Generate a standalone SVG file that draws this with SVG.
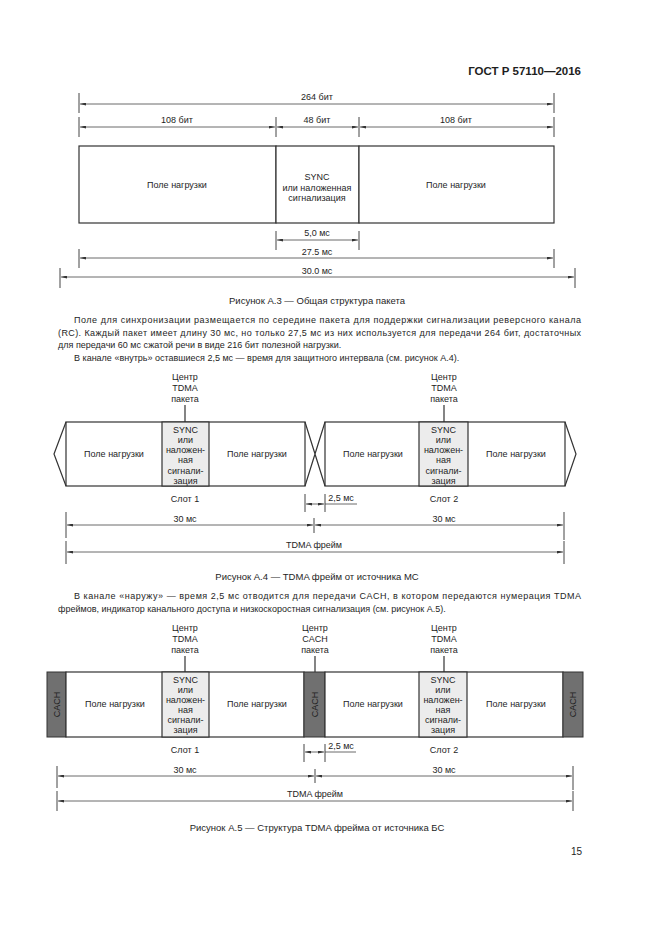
<svg xmlns="http://www.w3.org/2000/svg" width="661" height="935" viewBox="0 0 661 935">
<style>
text{font-family:"Liberation Sans",Arial,sans-serif;fill:#1e1e1e}
.t{font-size:9px;text-anchor:middle}
.p{font-size:9px}
.c{font-size:9.5px;text-anchor:middle}
.h{font-size:11.5px;font-weight:bold;text-anchor:end}
.box{fill:#fff;stroke:#333;stroke-width:1.2}
.sync{fill:#ececec;stroke:#333;stroke-width:1.2}
.cach{fill:#707070;stroke:#333;stroke-width:1}
.d{stroke:#444;stroke-width:0.8;fill:none}
.dm{stroke:#444;stroke-width:0.8;fill:none;marker-start:url(#a);marker-end:url(#a)}
.k{stroke:#444;stroke-width:1;fill:none}
.ln{stroke:#333;stroke-width:1.2;fill:none}
</style>
<defs>
<marker id="a" viewBox="0 0 8 4" refX="8" refY="2" markerWidth="6" markerHeight="3" orient="auto-start-reverse" markerUnits="userSpaceOnUse"><path d="M0,0 L8,2 L0,4z" fill="#333"/></marker>
</defs>
<rect width="661" height="935" fill="#fff"/>
<text class="h" x="581" y="75">ГОСТ Р 57110—2016</text>

<!-- Figure A.3 -->
<g id="a3-payload-left"><rect class="box" x="79" y="146" width="197" height="77"/><text class="t" x="177" y="188">Поле нагрузки</text></g>
<g id="a3-sync"><rect class="box" x="276" y="146" width="83" height="77"/><text class="t" x="317" y="180">SYNC</text><text class="t" x="317" y="191">или наложенная</text><text class="t" x="317" y="201">сигнализация</text></g>
<g id="a3-payload-right"><rect class="box" x="359" y="146" width="195" height="77"/><text class="t" x="456" y="188">Поле нагрузки</text></g>

<g id="a3-dimensions">
<path class="k" d="M79,93V113M554,93V113M79,117V137M276,117V137M359,117V137M554,117V137M276,231V250M359,231V250M79,249V268M554,249V268M60,268V288M575,268V288"/>
<path class="dm" d="M80,104H553"/>
<path class="dm" d="M80,127H275"/>
<path class="dm" d="M277,127H358"/>
<path class="dm" d="M360,127H553"/>
<path class="dm" d="M277,240H358"/>
<path class="dm" d="M80,258H553"/>
<path class="dm" d="M61,277H574"/>
<text class="t" x="317" y="100">264 бит</text>
<text class="t" x="177" y="123">108 бит</text>
<text class="t" x="317" y="123">48 бит</text>
<text class="t" x="456" y="123">108 бит</text>
<text class="t" x="317" y="236">5,0 мс</text>
<text class="t" x="317" y="255">27.5 мс</text>
<text class="t" x="317" y="274">30.0 мс</text>
</g>

<text class="c" x="317" y="304">Рисунок А.3 — Общая структура пакета</text>
<text class="p" x="74" y="323" textLength="507" lengthAdjust="spacing">Поле для синхронизации размещается по середине пакета для поддержки сигнализации реверсного канала</text>
<text class="p" x="58" y="336" textLength="523" lengthAdjust="spacing">(RC). Каждый пакет имеет длину 30 мс, но только 27,5 мс из них используется для передачи 264 бит, достаточных</text>
<text class="p" x="58" y="348">для передачи 60 мс сжатой речи в виде 216 бит полезной нагрузки.</text>
<text class="p" x="74" y="361">В канале «внутрь» оставшиеся 2,5 мс — время для защитного интервала (см. рисунок А.4).</text>

<!-- Figure A.4 -->
<g id="a4-label1"><text class="t" x="185" y="380">Центр</text><text class="t" x="185" y="391">TDMA</text><text class="t" x="185" y="402">пакета</text><path class="ln" d="M185,405V422"/></g>
<g id="a4-label2"><text class="t" x="444" y="380">Центр</text><text class="t" x="444" y="391">TDMA</text><text class="t" x="444" y="402">пакета</text><path class="ln" d="M444,405V422"/></g>
<g id="a4-slot1">
<rect class="box" x="66" y="422" width="239" height="64"/>
<rect class="sync" x="162" y="422" width="47" height="64"/>
<path class="ln" d="M66,422L54,454L66,486"/>
<text class="t" x="114" y="457">Поле нагрузки</text>
<text class="t" x="257" y="457">Поле нагрузки</text>
<text class="t" x="185.5" y="433">SYNC</text><text class="t" x="185.5" y="443">или</text><text class="t" x="185.5" y="453">наложен-</text><text class="t" x="185.5" y="463">ная</text><text class="t" x="185.5" y="474">сигнали-</text><text class="t" x="185.5" y="484">зация</text>
<text class="t" x="185" y="502">Слот 1</text>
</g>
<g id="a4-slot2">
<rect class="box" x="325" y="422" width="240" height="64"/>
<rect class="sync" x="419" y="422" width="49" height="64"/>
<path class="ln" d="M565,422L576,454L565,486"/>
<text class="t" x="373" y="457">Поле нагрузки</text>
<text class="t" x="516" y="457">Поле нагрузки</text>
<text class="t" x="443.5" y="433">SYNC</text><text class="t" x="443.5" y="443">или</text><text class="t" x="443.5" y="453">наложен-</text><text class="t" x="443.5" y="463">ная</text><text class="t" x="443.5" y="474">сигнали-</text><text class="t" x="443.5" y="484">зация</text>
<text class="t" x="444" y="502">Слот 2</text>
</g>
<g id="a4-connectors">
<path class="ln" d="M305,422L325,486M305,486L325,422"/>
<path class="k" d="M305,494V512M325,494V512M66,512V538M314,518V533M564,512V540M66,541V564M564,541V564"/>
<path class="dm" d="M306,504H324"/>
<path class="d" d="M325,504H357"/>
<text class="t" x="341" y="501">2,5 мс</text>
<path class="dm" d="M67,525H313"/>
<path class="dm" d="M315,525H563"/>
<text class="t" x="185" y="522">30 мс</text>
<text class="t" x="444" y="522">30 мс</text>
<path class="dm" d="M67,552H563"/>
<text class="t" x="314" y="548">TDMA фрейм</text>
</g>

<text class="c" x="317" y="580">Рисунок А.4 — TDMA фрейм от источника МС</text>
<text class="p" x="74" y="599" textLength="507" lengthAdjust="spacing">В канале «наружу» — время 2,5 мс отводится для передачи CACH, в котором передаются нумерация TDMA</text>
<text class="p" x="58" y="612">фреймов, индикатор канального доступа и низкоскоростная сигнализация (см. рисунок А.5).</text>

<!-- Figure A.5 -->
<g id="a5-label1"><text class="t" x="185" y="631">Центр</text><text class="t" x="185" y="642">TDMA</text><text class="t" x="185" y="653">пакета</text><path class="ln" d="M185,656V672"/></g>
<g id="a5-label2"><text class="t" x="315" y="631">Центр</text><text class="t" x="315" y="642">CACH</text><text class="t" x="315" y="653">пакета</text><path class="ln" d="M315,656V672"/></g>
<g id="a5-label3"><text class="t" x="444" y="631">Центр</text><text class="t" x="444" y="642">TDMA</text><text class="t" x="444" y="653">пакета</text><path class="ln" d="M444,656V672"/></g>
<g id="a5-cach-left"><rect class="cach" x="47" y="672" width="19" height="65"/><text class="t" transform="translate(59.5,704.5) rotate(-90)">CACH</text></g>
<g id="a5-slot1">
<rect class="box" x="66" y="672" width="238" height="65"/>
<rect class="sync" x="162" y="672" width="47" height="65"/>
<text class="t" x="115" y="707">Поле нагрузки</text>
<text class="t" x="257" y="707">Поле нагрузки</text>
<text class="t" x="185.5" y="683">SYNC</text><text class="t" x="185.5" y="693">или</text><text class="t" x="185.5" y="703">наложен-</text><text class="t" x="185.5" y="713">ная</text><text class="t" x="185.5" y="723">сигнали-</text><text class="t" x="185.5" y="733">зация</text>
<text class="t" x="185" y="753">Слот 1</text>
</g>
<g id="a5-cach-mid"><rect class="cach" x="304" y="672" width="21" height="65"/><text class="t" transform="translate(317.5,704.5) rotate(-90)">CACH</text></g>
<g id="a5-slot2">
<rect class="box" x="325" y="672" width="238" height="65"/>
<rect class="sync" x="419" y="672" width="48" height="65"/>
<text class="t" x="373" y="707">Поле нагрузки</text>
<text class="t" x="516" y="707">Поле нагрузки</text>
<text class="t" x="443" y="683">SYNC</text><text class="t" x="443" y="693">или</text><text class="t" x="443" y="703">наложен-</text><text class="t" x="443" y="713">ная</text><text class="t" x="443" y="723">сигнали-</text><text class="t" x="443" y="733">зация</text>
<text class="t" x="444" y="753">Слот 2</text>
</g>
<g id="a5-cach-right"><rect class="cach" x="563" y="672" width="20" height="65"/><text class="t" transform="translate(576,704.5) rotate(-90)">CACH</text></g>
<g id="a5-connectors">
<path class="k" d="M304,744V762M325,744V762M57,766V788M315,769V783M573,766V790M57,791V811M573,791V811"/>
<path class="dm" d="M305,752H324"/>
<path class="d" d="M325,752H356"/>
<text class="t" x="341" y="749">2,5 мс</text>
<path class="dm" d="M58,776H314"/>
<path class="dm" d="M316,776H572"/>
<text class="t" x="185" y="773">30 мс</text>
<text class="t" x="444" y="773">30 мс</text>
<path class="dm" d="M58,801H572"/>
<text class="t" x="315" y="797">TDMA фрейм</text>
</g>

<text class="c" x="317" y="831">Рисунок А.5 — Структура TDMA фрейма от источника БС</text>
<text class="p" x="582" y="855" style="text-anchor:end;font-size:10px">15</text>
</svg>
